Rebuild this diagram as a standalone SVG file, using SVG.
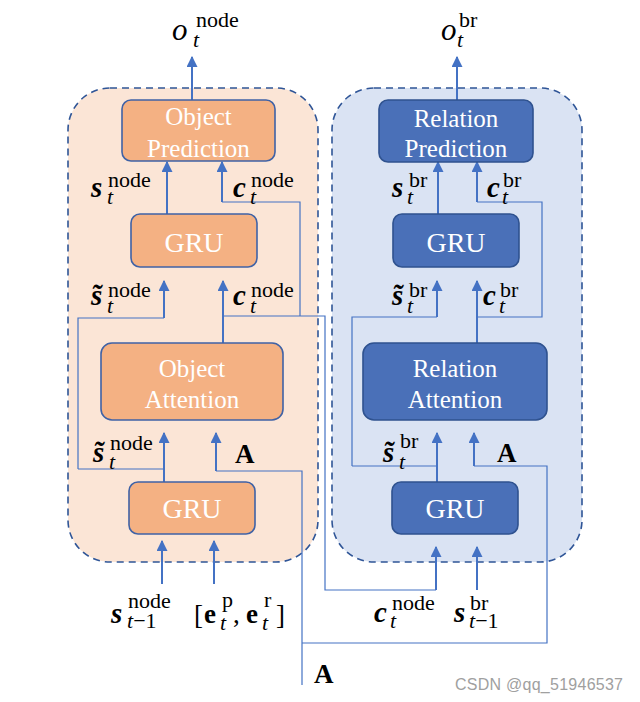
<svg xmlns="http://www.w3.org/2000/svg" width="640" height="702" viewBox="0 0 640 702">
<style>
.outer{stroke:#2F5597;stroke-width:1.6;stroke-dasharray:7 5}
.ob{fill:#F4B183;stroke:#3F62A6;stroke-width:1.6}
.bb{fill:#4A70B8;stroke:#2F528F;stroke-width:1.6}
.bt{font-family:"Liberation Serif",serif;font-size:25px;fill:#fff;text-anchor:middle}
.gt{font-family:"Liberation Serif",serif;font-size:28px;fill:#fff;text-anchor:middle}
.arr{stroke:#4472C4;stroke-width:2;fill:none;marker-end:url(#ah)}
.thin{stroke:#4472C4;stroke-width:1.2;fill:none}
.m{font-family:"Liberation Serif",serif;fill:#000}
.b{font-size:29px;font-style:italic;font-weight:bold}
.i{font-size:31px;font-style:italic;font-weight:normal}
.bu{font-size:27px;font-style:normal;font-weight:bold}
.n{font-size:27px;font-style:normal;font-weight:normal}
.sp{font-size:22px;font-style:normal;font-weight:normal}
.sb{font-size:22px;font-style:italic;font-weight:normal}
.wm{font-family:"Liberation Sans",sans-serif;font-size:16px;fill:#A0A0A0}
</style>
<defs>
<marker id="ah" viewBox="0 0 10 10" refX="9" refY="5" markerWidth="11" markerHeight="11" markerUnits="userSpaceOnUse" orient="auto">
<path d="M0,0 L10,5 L0,10 z" fill="#4472C4"/>
</marker>
</defs>
<rect width="640" height="702" fill="#fff"/>

<g id="node-panel"><rect x="68" y="88" width="250" height="474" rx="42" fill="#FBE5D6" class="outer"/></g>
<g id="br-panel"><rect x="332" y="88" width="250" height="474" rx="42" fill="#DAE3F3" class="outer"/></g>

<g id="connectors">
<line class="arr" x1="192" y1="100" x2="192" y2="57"/>
<line class="arr" x1="167" y1="214" x2="167" y2="162"/>
<line class="arr" x1="222" y1="202" x2="222" y2="162"/>
<path class="thin" d="M222,202 H300 V316"/>
<line class="arr" x1="164" y1="318" x2="164" y2="281"/>
<path class="thin" d="M78,469 V318 H164"/>
<line class="arr" x1="223" y1="343" x2="223" y2="281"/>
<path class="thin" d="M223,316 H325 V590 H436"/>
<line class="arr" x1="164" y1="482" x2="164" y2="433"/>
<path class="thin" d="M164,469 H78"/>
<line class="arr" x1="216" y1="471" x2="216" y2="433"/>
<path class="thin" d="M216,471 H302 V685"/>
<line class="arr" x1="162" y1="584" x2="162" y2="541"/>
<line class="arr" x1="214" y1="584" x2="214" y2="541"/>

<line class="arr" x1="457" y1="100" x2="457" y2="57"/>
<line class="arr" x1="438" y1="214" x2="438" y2="162"/>
<line class="arr" x1="477" y1="202" x2="477" y2="162"/>
<path class="thin" d="M477,202 H542 V317 H477"/>
<line class="arr" x1="437" y1="317" x2="437" y2="281"/>
<path class="thin" d="M352,466 V317 H437"/>
<line class="arr" x1="477" y1="343" x2="477" y2="281"/>
<line class="arr" x1="437" y1="482" x2="437" y2="433"/>
<path class="thin" d="M437,466 H352"/>
<line class="arr" x1="474" y1="466" x2="474" y2="433"/>
<path class="thin" d="M474,466 H547 V643 H302"/>
<line class="arr" x1="436" y1="590" x2="436" y2="547"/>
<line class="arr" x1="477" y1="590" x2="477" y2="547"/>
</g>

<g id="object-prediction"><rect class="ob" x="122" y="100" width="153" height="61" rx="9"/><text class="bt" x="198.5" y="125">Object</text><text class="bt" x="198.5" y="157">Prediction</text></g>
<g id="gru-node-upper"><rect class="ob" x="131" y="214" width="126" height="53" rx="9"/><text class="gt" x="194" y="252">GRU</text></g>
<g id="object-attention"><rect class="ob" x="101" y="343" width="182" height="77" rx="11"/><text class="bt" x="192" y="377">Object</text><text class="bt" x="192" y="408">Attention</text></g>
<g id="gru-node-lower"><rect class="ob" x="129" y="482" width="126" height="52" rx="9"/><text class="gt" x="192" y="518">GRU</text></g>

<g id="relation-prediction"><rect class="bb" x="379" y="100" width="154" height="62" rx="9"/><text class="bt" x="456" y="127">Relation</text><text class="bt" x="456" y="157">Prediction</text></g>
<g id="gru-br-upper"><rect class="bb" x="393" y="214" width="126" height="53" rx="9"/><text class="gt" x="456" y="252">GRU</text></g>
<g id="relation-attention"><rect class="bb" x="363" y="343" width="184" height="77" rx="11"/><text class="bt" x="455" y="377">Relation</text><text class="bt" x="455" y="408">Attention</text></g>
<g id="gru-br-lower"><rect class="bb" x="392" y="482" width="126" height="52" rx="9"/><text class="gt" x="455" y="518">GRU</text></g>

<g id="labels">
<text class="m"><tspan class="i" x="172" y="40">o</tspan><tspan class="sp" x="196" y="27">node</tspan><tspan class="sb" x="193" y="47">t</tspan></text>
<text class="m"><tspan class="i" x="441" y="40">o</tspan><tspan class="sp" x="459" y="27">br</tspan><tspan class="sb" x="457" y="47">t</tspan></text>

<text class="m"><tspan class="b" x="91" y="197">s</tspan><tspan class="sp" x="108" y="187">node</tspan><tspan class="sb" x="107" y="204">t</tspan></text>
<text class="m"><tspan class="b" x="233" y="197">c</tspan><tspan class="sp" x="251" y="187">node</tspan><tspan class="sb" x="250" y="204">t</tspan></text>
<text class="m"><tspan class="b" x="392" y="197">s</tspan><tspan class="sp" x="409" y="187">br</tspan><tspan class="sb" x="407" y="204">t</tspan></text>
<text class="m"><tspan class="b" x="487" y="197">c</tspan><tspan class="sp" x="503" y="187">br</tspan><tspan class="sb" x="502" y="204">t</tspan></text>

<text class="m"><tspan class="b" x="91" y="305">s̃</tspan><tspan class="sp" x="108" y="297">node</tspan><tspan class="sb" x="107" y="313">t</tspan></text>
<text class="m"><tspan class="b" x="233" y="305">c</tspan><tspan class="sp" x="251" y="297">node</tspan><tspan class="sb" x="250" y="313">t</tspan></text>
<text class="m"><tspan class="b" x="392" y="305">s̃</tspan><tspan class="sp" x="409" y="297">br</tspan><tspan class="sb" x="407" y="313">t</tspan></text>
<text class="m"><tspan class="b" x="483" y="305">c</tspan><tspan class="sp" x="500" y="297">br</tspan><tspan class="sb" x="499" y="313">t</tspan></text>

<text class="m"><tspan class="b" x="93" y="462">s̃</tspan><tspan class="sp" x="110" y="450">node</tspan><tspan class="sb" x="109" y="469">t</tspan></text>
<text class="m bu" x="235" y="463">A</text>
<text class="m"><tspan class="b" x="383" y="462">s̃</tspan><tspan class="sp" x="400" y="448">br</tspan><tspan class="sb" x="399" y="469">t</tspan></text>
<text class="m bu" x="497" y="462">A</text>

<text class="m"><tspan class="b" x="111" y="623">s</tspan><tspan class="sp" x="128" y="608">node</tspan><tspan class="sb" x="127" y="628">t</tspan><tspan class="sp">−1</tspan></text>
<text class="m"><tspan class="n" x="194" y="624">[</tspan><tspan class="bu" x="204" y="623">e</tspan><tspan class="sp" x="222" y="607">p</tspan><tspan class="sb" x="220" y="630">t</tspan><tspan class="n" x="233" y="623">,</tspan><tspan class="bu" x="246" y="623">e</tspan><tspan class="sp" x="264" y="607">r</tspan><tspan class="sb" x="262" y="630">t</tspan><tspan class="n" x="276" y="624">]</tspan></text>
<text class="m"><tspan class="b" x="374" y="622">c</tspan><tspan class="sp" x="392" y="610">node</tspan><tspan class="sb" x="390" y="628">t</tspan></text>
<text class="m"><tspan class="b" x="454" y="622">s</tspan><tspan class="sp" x="470" y="610">br</tspan><tspan class="sb" x="469" y="628">t</tspan><tspan class="sp">−1</tspan></text>
<text class="m bu" x="314" y="683">A</text>
</g>
<text class="wm" x="455" y="690" textLength="168">CSDN @qq_51946537</text>
</svg>
